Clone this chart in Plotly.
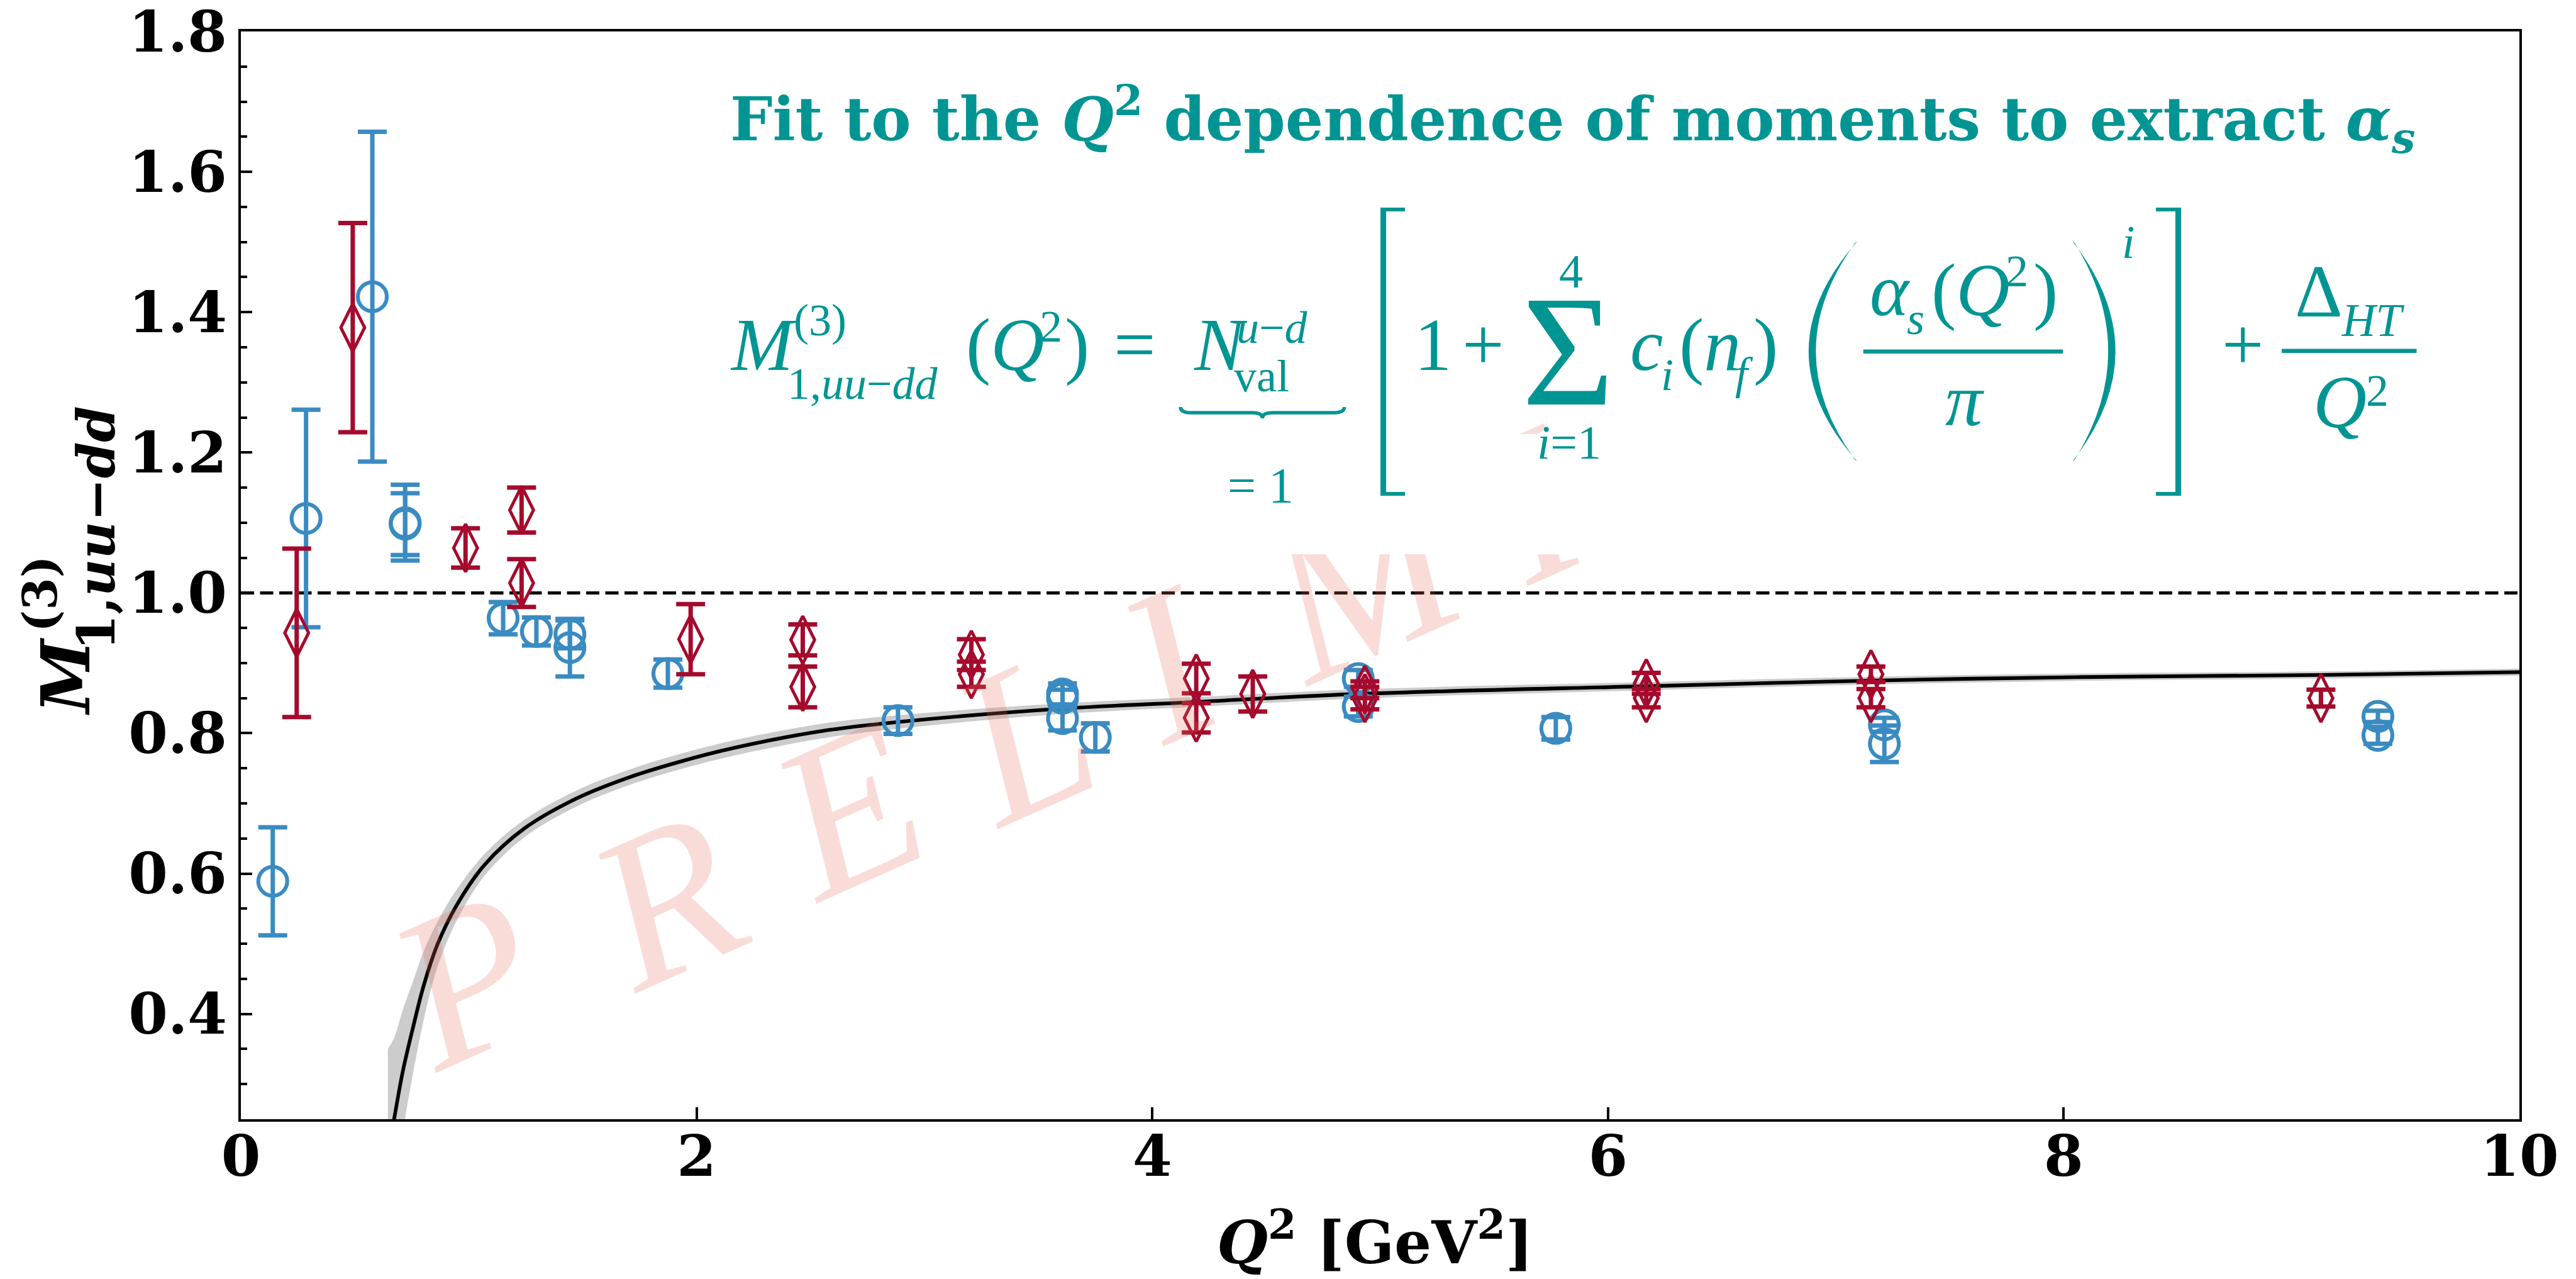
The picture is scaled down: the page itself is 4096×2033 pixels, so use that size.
import plotly.graph_objects as go

# ---------------- data ----------------
# lattice moments, first ensemble (open circles)
q2_circle = [0.140, 0.286, 0.577, 0.721, 0.721, 1.151, 1.297, 1.444, 1.444, 1.874, 2.884,
             3.606, 3.606, 3.606, 3.750, 4.904, 4.904, 5.771, 7.213, 7.213, 9.379, 9.379]
m_circle = [0.589, 1.106, 1.422, 1.100, 1.098, 0.964, 0.945, 0.941, 0.922, 0.885, 0.818,
            0.856, 0.850, 0.821, 0.794, 0.878, 0.838, 0.807, 0.812, 0.785, 0.824, 0.797]
err_circle = [0.077, 0.155, 0.235, 0.054, 0.044, 0.023, 0.020, 0.020, 0.041, 0.020, 0.019,
              0.015, 0.012, 0.017, 0.020, 0.012, 0.014, 0.016, 0.010, 0.026, 0.008, 0.012]

# lattice moments, second ensemble (thin diamonds)
q2_diamond = [0.245, 0.491, 0.986, 1.232, 1.232, 1.974, 2.466, 2.466, 3.206, 3.206,
              4.193, 4.193, 4.441, 4.933, 4.933, 6.168, 6.168, 7.154, 7.154, 9.129]
m_diamond = [0.943, 1.378, 1.064, 1.118, 1.014, 0.934, 0.933, 0.866, 0.912, 0.884,
             0.878, 0.822, 0.856, 0.862, 0.850, 0.871, 0.850, 0.884, 0.850, 0.850]
err_diamond = [0.120, 0.149, 0.028, 0.032, 0.034, 0.050, 0.022, 0.029, 0.022, 0.018,
               0.021, 0.021, 0.025, 0.012, 0.016, 0.015, 0.013, 0.011, 0.013, 0.012]

# fitted Q^2 dependence with its uncertainty band
fit_q2 = [0.645, 0.673, 0.710, 0.755, 0.802, 0.864, 0.949, 1.071, 1.243, 1.473, 1.703, 1.933,
          2.163, 2.548, 2.884, 3.604, 4.221, 4.904, 6.168, 7.154, 8.080, 9.129, 10.0]
fit_m = [0.200, 0.251, 0.317, 0.380, 0.440, 0.500, 0.556, 0.613, 0.664, 0.707, 0.737, 0.760,
         0.779, 0.803, 0.816, 0.835, 0.845, 0.856, 0.867, 0.875, 0.880, 0.883, 0.887]
fit_band = [0.150, 0.115, 0.088, 0.066, 0.049, 0.032, 0.022, 0.0155, 0.0125, 0.0115, 0.011, 0.011,
            0.011, 0.0105, 0.0095, 0.0075, 0.007, 0.0065, 0.0058, 0.0055, 0.0052, 0.005, 0.005]

x_ticks = [0, 2, 4, 6, 8, 10]
x_tick_text = ["0", "2", "4", "6", "8", "10"]
y_ticks = [0.4, 0.6, 0.8, 1.0, 1.2, 1.4, 1.6, 1.8]
y_tick_text = ["0.4", "0.6", "0.8", "1.0", "1.2", "1.4", "1.6", "1.8"]
y_minor_ticks = [round(0.25 + 0.05 * k, 2) for k in range(31)]

WATERMARK = "PRELIMI"

# ---------------- styling ----------------
W, H = 4096, 2033
PL, PR, PT, PB = 382.5, 4006.5, 50.0, 1778.8      # plot area in page pixels
TEAL = "#009593"
BLUE = "#3a8bc2"
RED = "#a50a2c"
MATH = "Liberation Serif"
BOLD = "DejaVu Serif"


def px_x(x):
    return (x - PL) / (PR - PL)


def px_y(y):
    return (PB - y) / (PB - PT)


fig = go.Figure()

upper = [m + b for m, b in zip(fit_m, fit_band)]
lower = [m - b for m, b in zip(fit_m, fit_band)]
spl = dict(shape="spline", smoothing=1.0)
fig.add_trace(go.Scatter(x=fit_q2, y=upper, mode="lines", line=dict(width=0, **spl),
                         hoverinfo="skip", showlegend=False))
fig.add_trace(go.Scatter(x=fit_q2, y=lower, mode="lines", line=dict(width=0, **spl),
                         fill="tonexty", fillcolor="#cccccc", hoverinfo="skip", showlegend=False))
fig.add_trace(go.Scatter(x=fit_q2, y=fit_m, mode="lines",
                         line=dict(color="black", width=5.8, **spl), showlegend=False))
fig.add_trace(go.Scatter(x=[0, 10], y=[1.0, 1.0], mode="lines",
                         line=dict(color="black", width=5, dash="21px,9.5px"), showlegend=False))

fig.add_trace(go.Scatter(
    x=q2_circle, y=m_circle, mode="markers", showlegend=False,
    marker=dict(symbol="circle-open", size=46, color=BLUE, line=dict(width=6.2, color=BLUE)),
    error_y=dict(type="data", array=err_circle, color=BLUE, thickness=7, width=23)))
fig.add_trace(go.Scatter(
    x=q2_diamond, y=m_diamond, mode="markers", showlegend=False,
    marker=dict(symbol="diamond-tall-open", size=54, color=RED, line=dict(width=5, color=RED)),
    error_y=dict(type="data", array=err_diamond, color=RED, thickness=7, width=23)))

# ---------------- watermark ----------------
wm_centres = [(741, 1557), (1058, 1431), (1348, 1287), (1627, 1173), (1860, 1055),
              (2171, 923), (2440, 800)]
for ch, (cx, cy) in zip(WATERMARK, wm_centres):
    fig.add_annotation(text="<i>%s</i>" % ch, x=px_x(cx), y=px_y(cy), xref="paper", yref="paper",
                       xanchor="center", yanchor="middle", textangle=-24, showarrow=False,
                       font=dict(family=MATH, size=345, color="rgba(228,110,90,0.24)"))


def rect(x0, y0, x1, y1, color):
    fig.add_annotation(text=" ", x=px_x(x0), y=px_y(y0), xref="paper", yref="paper",
                       xanchor="left", yanchor="top", width=max(x1 - x0, 1), height=max(y1 - y0, 1),
                       bgcolor=color, borderpad=0, borderwidth=0, showarrow=False,
                       font=dict(size=1, color=color))


# white panel behind the formula
rect(1959, 690, 2640, 880.7, "white")


def eq(text, x, base, size, anchor="left", family=MATH, color=TEAL):
    yc = base - 0.3375 * size
    fig.add_annotation(text=text, x=px_x(x), y=px_y(yc), xref="paper", yref="paper",
                       xanchor=anchor, yanchor="middle", showarrow=False, borderpad=0,
                       font=dict(family=family, size=size, color=color))


B0, S0, S1 = 588.7, 118, 72
eq("<i>M</i>", 1159.3, B0, S0)
eq("(3)", 1261.0, 533.4, S1)
eq("1,<i>uu</i>\u2212<i>dd</i>", 1251.2, 634, S1)
eq("(<i>Q</i>", 1534.8, B0, S0)
eq("2", 1652.3, 543, S1)
eq(")", 1691.5, B0, S0)
eq("=", 1804, B0, S0, "center")
eq("<i>N</i>", 1896.8, B0, S0)
eq("<i>u</i>\u2212<i>d</i>", 1964.9, 545.5, S1)
eq("val", 1961.2, 622, S1)
eq("= 1", 2004.5, 798.6, 80, "center")
eq("1", 2248.5, B0, S0)
eq("+", 2358.6, B0, S0, "center")
eq("\u03a3", 2493.4, 642.8, 252, "center")
eq("4", 2498.5, 457, 76, "center")
eq("<i>i</i>=1", 2495.3, 728.7, 76, "center")
eq("<i>c</i>", 2591, B0, S0)
eq("<i>i</i>", 2640, 620, S1)
eq("(<i>n</i>", 2669.5, B0, S0)
eq("<i>f</i>", 2758, 618, S1)
eq(")", 2787, B0, S0)
eq("<i>\u03b1</i>", 2972.6, 501, S0)
eq("<i>s</i>", 3031, 531, S1)
eq("(<i>Q</i>", 3070.5, 501, S0)
eq("2", 3188, 455.5, S1)
eq(")", 3232.6, 501, S0)
eq("<i>\u03c0</i>", 3124.5, 676.4, S0, "center")
eq("<i>i</i>", 3373.7, 409.6, 74)
eq("+", 3567.3, B0, S0, "center")
eq("\u0394", 3648, 503, S0)
eq("<i>HT</i>", 3722.7, 533.7, 74)
eq("<i>Q</i>", 3677, 679, S0)
eq("2", 3761, 645.6, S1)

# square brackets
for xv0, xv1, xa0, xa1 in [(2194.5, 2203.5, 2194.5, 2233.6), (3459.0, 3468.0, 3428.8, 3468.0)]:
    rect(xv0, 330, xv1, 788.4, TEAL)
    rect(xa0, 330, xa1, 336, TEAL)
    rect(xa0, 782.4, xa1, 788.4, TEAL)

# title line
eq("<b>Fit to the <i>Q</i><sup>2</sup> dependence of moments to extract "
   "<i>\u03b1</i><sub><i>s</i></sub></b>", 1159.3, 221.9, 95, family=BOLD)

shapes = []


def path(d_pts, fill=None, width=0, color=TEAL):
    return dict(type="path", xref="paper", yref="paper", path=d_pts, layer="above",
                fillcolor=fill if fill else "rgba(0,0,0,0)",
                line=dict(color=color, width=width))


def P(x, y):
    return "%.6f,%.6f" % (px_x(x), px_y(y))


# fraction bars
for x0, x1, y in [(2963, 3280.4, 558.6), (3628.4, 3843, 557.8)]:
    shapes.append(path("M" + P(x0, y) + "L" + P(x1, y), width=6.5))

# underbrace
bx0, bx1, by0, by1 = 1877, 2137.5, 647, 665
bm = (bx0 + bx1) / 2
ym = 656
shapes.append(path("M" + P(bx0, by0) + "Q" + P(bx0, ym) + " " + P(bx0 + 16, ym) +
                   "L" + P(bm - 16, ym) + "Q" + P(bm, ym) + " " + P(bm, by1) +
                   "Q" + P(bm, ym) + " " + P(bm + 16, ym) +
                   "L" + P(bx1 - 16, ym) + "Q" + P(bx1, ym) + " " + P(bx1, by0), width=5.5))

# large parentheses as filled crescents
yt, yb, yc = 384, 733, 558.5
shapes.append(path("M" + P(2953, yt) + "Q" + P(2799, yc) + " " + P(2953, yb) +
                   "L" + P(2950, yb - 2) + "Q" + P(2825, yc) + " " + P(2950, yt + 2) + "Z",
                   fill=TEAL))
shapes.append(path("M" + P(3296, yt) + "Q" + P(3432, yc) + " " + P(3296, yb) +
                   "L" + P(3299, yb - 2) + "Q" + P(3406, yc) + " " + P(3299, yt + 2) + "Z",
                   fill=TEAL))

# axis titles
fig.add_annotation(text="<b><i>Q</i><sup>2</sup> [GeV<sup>2</sup>]</b>", x=px_x(2186), y=px_y(2032),
                   xref="paper", yref="paper", xanchor="center", yanchor="bottom", showarrow=False,
                   font=dict(family=BOLD, size=93, color="black"))
for txt, cx, cy, sz in [("<b><i>M</i></b>", 104, 1075, 106),
                        ("<b>(3)</b>", 64, 944, 74),
                        ("<b>1,<i>uu</i>\u2212<i>dd</i></b>", 153, 840, 82)]:
    fig.add_annotation(text=txt, x=px_x(cx), y=px_y(cy), xref="paper", yref="paper",
                       xanchor="center", yanchor="middle", textangle=-90, showarrow=False,
                       font=dict(family=BOLD, size=sz, color="black"))

axis_common = dict(showline=True, linewidth=4.3, linecolor="black", mirror=True, showgrid=False,
                   zeroline=False, ticks="inside", tickcolor="black", tickwidth=4.3,
                   ticklabeloverflow="allow",
                   tickfont=dict(family=BOLD, size=90, color="black", weight="bold"))

fig.update_layout(
    width=W, height=H,
    margin=dict(l=PL, r=W - PR, t=PT, b=H - PB, autoexpand=False),
    paper_bgcolor="white", plot_bgcolor="white",
    showlegend=False,
    shapes=shapes,
    xaxis=dict(range=[0, 10], tickmode="array", tickvals=x_ticks, ticktext=x_tick_text,
               ticklen=19, ticklabelstandoff=-22, **axis_common),
    yaxis=dict(range=[0.25, 1.8], tickmode="array", tickvals=y_ticks, ticktext=y_tick_text,
               ticklen=18, ticklabelstandoff=0,
               minor=dict(tickmode="array", tickvals=y_minor_ticks, ticks="inside", ticklen=9.5,
                          tickwidth=4, tickcolor="black", showgrid=False),
               **axis_common),
)

fig.write_html("out.html")
